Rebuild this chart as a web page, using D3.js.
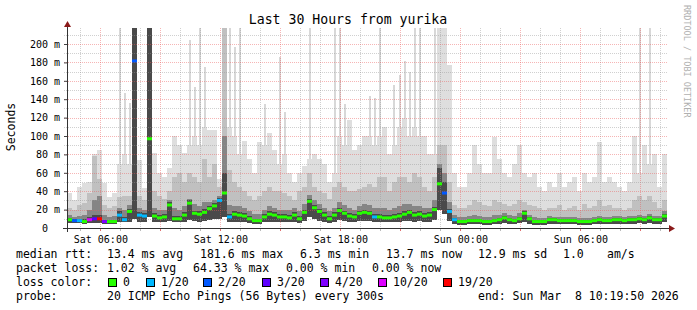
<!DOCTYPE html>
<html>
<head>
<meta charset="utf-8">
<script src="https://cdn.jsdelivr.net/npm/d3@7"></script>
<style>
body { margin: 0; background: #fff; }
text { font-family: "DejaVu Sans Mono", monospace; white-space: pre; }
</style>
</head>
<body>
<svg id="chart" width="697" height="310"></svg>
<script>
// 15 minute buckets, Sat Mar 7 04:20 -> Sun Mar 8 10:20
const start = new Date(2026, 2, 7, 4, 20);
const stepMin = 15;

// max ping of the bucket (light smoke), ms
const maxv = [38, 30, 45, 49, 50, 80, 85, 49, 34, 38,
  70, 80, 70, 218, 74, 43, 218, 81, 60, 55,
  65, 100, 90, 81, 90, 100, 90, 110, 106, 106,
  53, 218, 110, 100, 80, 95, 75, 60, 94, 90,
  103, 85, 70, 80, 60, 50, 60, 67, 75, 80,
  75, 70, 50, 60, 100, 90, 117, 85, 90, 100,
  100, 90, 100, 110, 80, 90, 110, 120, 100, 110,
  100, 100, 80, 80, 218, 218, 177, 60, 45, 45,
  60, 90, 70, 60, 60, 99, 75, 60, 55, 70,
  90, 60, 55, 60, 45, 40, 50, 45, 60, 45,
  50, 55, 40, 60, 50, 55, 94, 50, 55, 50,
  45, 40, 50, 100, 60, 90, 70, 80, 45, 80];

// single thin outliers above the smoke, ms (0 = none)
const spikev = [0, 0, 0, 0, 0, 0, 0, 0, 0, 0,
  218, 147, 136, 0, 0, 0, 0, 0, 0, 0,
  0, 0, 0, 0, 204, 153, 218, 175, 0, 0,
  0, 0, 218, 197, 218, 0, 0, 0, 0, 135,
  0, 0, 186, 126, 0, 0, 0, 0, 218, 0,
  0, 0, 0, 218, 218, 135, 0, 0, 0, 0,
  143, 141, 218, 0, 0, 155, 166, 181, 170, 218,
  218, 0, 0, 218, 0, 0, 0, 0, 0, 0,
  0, 0, 0, 0, 0, 0, 0, 0, 0, 0,
  0, 0, 0, 0, 0, 0, 0, 0, 0, 0,
  0, 0, 0, 0, 0, 0, 0, 0, 0, 0,
  0, 0, 0, 0, 218, 0, 218, 0, 0, 0];

// upper middle smoke, ms
const midv = [22, 20, 25, 27, 38, 78, 53, 25, 22, 24,
  34, 35, 35, 218, 35, 30, 218, 40, 35, 32,
  40, 55, 60, 50, 60, 55, 50, 75, 55, 70,
  45, 218, 63, 50, 45, 40, 35, 30, 35, 40,
  45, 40, 40, 38, 35, 30, 40, 45, 60, 45,
  40, 38, 32, 45, 50, 45, 40, 40, 42, 45,
  48, 45, 55, 55, 40, 50, 55, 55, 50, 60,
  55, 45, 40, 55, 90, 90, 50, 25, 22, 22,
  25, 30, 28, 25, 24, 30, 28, 26, 24, 26,
  30, 28, 25, 24, 22, 20, 22, 22, 25, 20,
  22, 24, 20, 26, 22, 24, 30, 24, 25, 22,
  22, 20, 22, 30, 35, 30, 35, 28, 22, 30];

// dense smoke near the median, ms
const darkv = [14, 12, 13, 14, 20, 30, 35, 14, 12, 13,
  22, 20, 25, 218, 22, 20, 218, 22, 20, 20,
  30, 22, 20, 24, 32, 26, 24, 28, 28, 30,
  35, 100, 25, 24, 24, 22, 18, 15, 15, 20,
  24, 22, 20, 20, 20, 22, 18, 26, 36, 30,
  26, 22, 18, 22, 28, 25, 22, 20, 24, 26,
  25, 22, 22, 22, 20, 22, 24, 26, 26, 24,
  24, 22, 22, 30, 70, 60, 28, 14, 12, 12,
  13, 14, 13, 12, 12, 14, 14, 16, 14, 13,
  16, 20, 14, 12, 11, 11, 13, 12, 12, 12,
  12, 12, 11, 11, 11, 12, 13, 12, 12, 13,
  13, 12, 13, 13, 14, 13, 15, 13, 13, 18];

// core of the smoke, ms
const corev = [11, 10, 10, 10, 12, 14, 14, 9, 9, 9,
  18, 12, 21, 218, 17, 16, 218, 16, 14, 15,
  28, 13, 13, 17, 30, 19, 18, 21, 24, 27,
  33, 60, 15, 18, 17, 16, 13, 10, 10, 15,
  18, 17, 15, 15, 14, 17, 13, 20, 32, 25,
  21, 17, 13, 17, 22, 19, 16, 15, 19, 20,
  19, 15, 15, 14, 14, 15, 16, 18, 20, 17,
  18, 16, 17, 23, 65, 50, 21, 11, 9, 9,
  10, 10, 10, 9, 9, 10, 11, 13, 11, 10,
  12, 18, 12, 9, 9, 9, 11, 11, 10, 10,
  10, 10, 9, 9, 9, 10, 11, 10, 10, 11,
  11, 10, 11, 11, 12, 11, 13, 11, 11, 15];

// min ping (bottom of smoke), ms
const minv = [5, 5, 5, 4, 5, 5, 5, 4, 4, 4,
  6, 6, 7, 10, 7, 7, 12, 7, 6, 6,
  8, 6, 6, 7, 9, 8, 7, 8, 9, 10,
  10, 12, 7, 7, 7, 7, 5, 4, 4, 6,
  7, 7, 6, 6, 6, 7, 5, 8, 12, 10,
  8, 7, 5, 7, 9, 8, 7, 6, 8, 8,
  8, 6, 6, 6, 6, 6, 7, 8, 8, 7,
  8, 7, 7, 9, 20, 15, 8, 4, 3, 3,
  4, 4, 4, 3, 3, 4, 4, 5, 4, 4,
  5, 6, 4, 3, 3, 3, 4, 4, 4, 4,
  4, 4, 3, 3, 3, 4, 4, 4, 4, 4,
  4, 4, 4, 4, 5, 4, 5, 4, 4, 6];

// median rtt, ms
const medv = [9, 8, 8, 7, 9, 10, 10, 7, 7, 7,
  14, 9, 18, 181.6, 14, 13, 97, 13, 11, 12,
  25, 10, 10, 14, 27, 16, 15, 17, 21, 24,
  30, 38, 12, 15, 14, 13, 10, 8, 8, 12,
  15, 14, 12, 12, 11, 14, 10, 17, 29, 22,
  18, 14, 10, 14, 19, 16, 13, 12, 16, 17,
  16, 12, 12, 11, 11, 12, 13, 15, 17, 14,
  15, 13, 14, 20, 48, 38, 18, 9, 7, 7,
  8, 8, 8, 7, 7, 8, 9, 11, 9, 8,
  10, 16, 10, 7, 7, 7, 9, 9, 8, 8,
  8, 8, 7, 7, 7, 8, 9, 8, 8, 9,
  9, 8, 9, 9, 10, 9, 11, 9, 9, 13];

// lost pings out of 20
const lossv = [0, 2, 1, 0, 10, 3, 19, 4, 0, 0,
  1, 1, 0, 2, 1, 1, 0, 0, 0, 0,
  0, 0, 0, 0, 0, 0, 0, 0, 0, 0,
  1, 0, 1, 0, 0, 0, 0, 0, 0, 0,
  0, 0, 0, 0, 0, 0, 0, 0, 0, 0,
  0, 0, 0, 0, 0, 0, 0, 0, 0, 0,
  0, 1, 0, 0, 0, 0, 0, 0, 0, 0,
  0, 0, 0, 0, 0, 2, 1, 1, 0, 0,
  0, 0, 0, 0, 0, 0, 0, 0, 0, 0,
  0, 0, 0, 0, 0, 0, 0, 0, 0, 0,
  0, 0, 0, 0, 0, 0, 0, 0, 0, 0,
  0, 0, 0, 0, 0, 0, 0, 0, 0, 0];

const lossSteps = [0, 1, 2, 3, 4, 10, 19];
const lossLabels = ["0", "1/20", "2/20", "3/20", "4/20", "10/20", "19/20"];
const lossColors = ["#26ff00", "#00b8ff", "#0059ff", "#5e00ff", "#7e00ff", "#dd00ff", "#ff0000"];

const yTicks = [0, 20, 40, 60, 80, 100, 120, 140, 160, 180, 200];

const legendLines = [
  [["median rtt:", 16], ["13.4 ms avg", 107], ["181.6 ms max", 200], ["6.3 ms min", 300], ["13.7 ms now", 386], ["12.9 ms sd", 478], ["1.0", 563], ["am/s", 607]],
  [["packet loss:", 16], ["1.02 % avg", 107], ["64.33 % max", 193], ["0.00 % min", 286], ["0.00 % now", 372]],
  [["loss color:", 16]],
  [["probe:", 16], ["20 ICMP Echo Pings (56 Bytes) every 300s", 107], ["end: Sun Mar  8 10:19:50 2026", 478]]
];
const boxX = [108, 146, 203, 262, 320, 378, 443];

const svg = d3.select("#chart");
const end = d3.timeHour.offset(start, 30);
const x = d3.scaleTime().domain([start, end]).range([67, 667]);
const y = d3.scaleLinear().domain([0, 217.4]).range([228, 28]).clamp(true);
const t = i => d3.timeMinute.offset(start, stepMin * i);
const cols = d3.range(medv.length);
const lossColor = n => lossColors[d3.bisectRight(lossSteps, n) - 1];

function smoke(top, color) {
  svg.append("g").attr("shape-rendering", "crispEdges")
    .selectAll("rect").data(cols).join("rect")
    .attr("x", i => x(t(i)))
    .attr("width", i => x(t(i + 1)) - x(t(i)))
    .attr("y", i => y(top[i]))
    .attr("height", i => y(minv[i]) - y(top[i]))
    .attr("fill", color);
}
// thin outliers
svg.append("g").attr("shape-rendering", "crispEdges")
  .selectAll("rect").data(cols.filter(i => spikev[i] > 0)).join("rect")
  .attr("x", i => Math.round(x(t(i)) + 1.5))
  .attr("width", 2)
  .attr("y", i => y(spikev[i]))
  .attr("height", i => y(minv[i]) - y(spikev[i]))
  .attr("fill", "#d8d8d8");
smoke(maxv, "#dedede");
smoke(midv, "#c0c0c0");
smoke(darkv, "#858585");
smoke(corev, "#4a4a4a");

// grid, drawn over the smoke like rrdtool
const grid = svg.append("g").attr("shape-rendering", "crispEdges");
const hours = d3.timeHour.range(start, end).filter(d => d > start);
const minorCol = "rgba(150,150,150,0.45)";
const majorCol = "rgba(235,90,90,0.45)";
hours.forEach(d => {
  const major = d.getHours() % 3 === 0;
  grid.append("line")
    .attr("x1", Math.round(x(d)) + 0.5).attr("x2", Math.round(x(d)) + 0.5)
    .attr("y1", 28).attr("y2", 231)
    .attr("stroke", major ? majorCol : minorCol)
    .attr("stroke-dasharray", "1,1");
});
d3.range(10, 220, 10).forEach(v => {
  const major = v % 20 === 0;
  grid.append("line")
    .attr("x1", 64).attr("x2", 667)
    .attr("y1", Math.round(y(v)) + 0.5).attr("y2", Math.round(y(v)) + 0.5)
    .attr("stroke", major ? majorCol : minorCol)
    .attr("stroke-dasharray", "1,1");
});

// median, coloured by loss
svg.append("g").selectAll("line").data(cols).join("line")
  .attr("x1", i => x(t(i)))
  .attr("x2", i => x(t(i + 1)))
  .attr("y1", i => y(medv[i]))
  .attr("y2", i => y(medv[i]))
  .attr("stroke", i => lossColor(lossv[i]))
  .attr("stroke-width", 3);

// axes
const yAxis = d3.axisLeft(y).tickValues(yTicks).tickSize(3).tickPadding(4)
  .tickFormat(v => v === 0 ? "0  " : v + " m");
svg.append("g").attr("transform", "translate(67,0)").call(yAxis)
  .call(g => g.select(".domain").remove())
  .call(g => g.selectAll("line").attr("stroke", "#444"))
  .call(g => g.selectAll("text").attr("font-size", 10).attr("fill", "#000")
    .attr("font-family", "DejaVu Sans Mono"));

const xAxis = d3.axisBottom(x).ticks(d3.timeHour.every(6)).tickSize(0).tickPadding(8)
  .tickFormat(d3.timeFormat("%a %H:%M"));
svg.append("g").attr("transform", "translate(0,228)").call(xAxis)
  .call(g => g.select(".domain").remove())
  .call(g => g.selectAll("text").attr("font-size", 10).attr("fill", "#000")
    .attr("font-family", "DejaVu Sans Mono"));

hours.forEach(d => {
  svg.append("line")
    .attr("x1", Math.round(x(d)) + 0.5).attr("x2", Math.round(x(d)) + 0.5)
    .attr("y1", 229).attr("y2", 231)
    .attr("stroke", d.getHours() % 3 === 0 ? "#e07070" : "#bbb");
});

svg.append("line").attr("x1", 63).attr("x2", 670).attr("y1", 228.5).attr("y2", 228.5)
  .attr("stroke", "#333");
svg.append("line").attr("x1", 67.5).attr("x2", 67.5).attr("y1", 232).attr("y2", 24)
  .attr("stroke", "#333");
svg.append("path").attr("d", "M67.5,21 L64,27 L71,27 Z").attr("fill", "#8b1a1a");
svg.append("path").attr("d", "M675,228.5 L669,225 L669,232 Z").attr("fill", "#8b1a1a");

// titles
svg.append("text").attr("x", 348).attr("y", 24).attr("text-anchor", "middle")
  .attr("font-size", 13.2).text("Last 30 Hours from yurika");
svg.append("text").attr("transform", "translate(15,127) rotate(-90)")
  .attr("text-anchor", "middle").attr("font-size", 11.5).text("Seconds");
svg.append("text").attr("transform", "translate(684,5) rotate(90)")
  .attr("font-size", 8.5).attr("fill", "#b0b0b0").text("RRDTOOL / TOBI OETIKER");

// legend
const baseY = [258, 272, 286, 300];
legendLines.forEach((line, li) => {
  line.forEach(([s, lx]) => {
    svg.append("text").attr("x", lx).attr("y", baseY[li]).attr("font-size", 11.5).text(s);
  });
});
lossLabels.forEach((lab, i) => {
  svg.append("rect").attr("x", boxX[i] + 0.5).attr("y", 278.5).attr("width", 8).attr("height", 8)
    .attr("fill", lossColors[i]).attr("stroke", "#000");
  svg.append("text").attr("x", boxX[i] + 15).attr("y", 286).attr("font-size", 11.5).text(lab);
});
</script>
</body>
</html>
